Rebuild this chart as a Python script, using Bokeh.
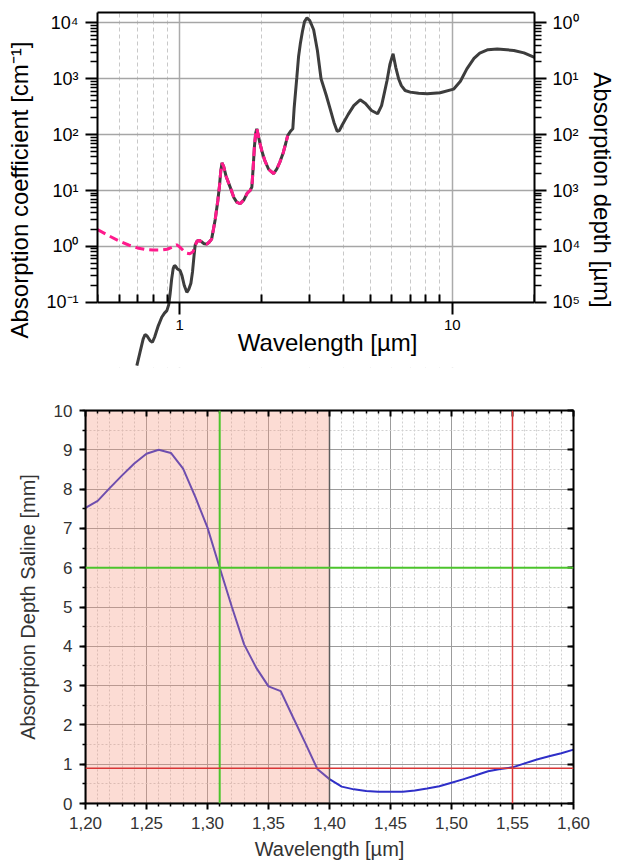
from bokeh.plotting import figure
from bokeh.models import (Range1d, LogAxis, LinearAxis, FixedTicker, SingleIntervalTicker,
                          Label, Span)
from bokeh.embed import file_html
from bokeh.resources import INLINE

FONT = "Liberation Sans"

# ---------------- top chart data: water absorption coefficient [cm^-1] ----------------
water_wl = [0.697, 0.715, 0.735, 0.747, 0.76, 0.78, 0.795, 0.81, 0.835, 0.86, 0.88, 0.898,
            0.912, 0.923, 0.935, 0.947, 0.957, 0.967, 0.98, 1.004, 1.02, 1.04, 1.063, 1.08,
            1.1, 1.115, 1.13, 1.14, 1.16, 1.18, 1.2, 1.23, 1.258, 1.285, 1.31, 1.33, 1.35,
            1.38, 1.40, 1.415, 1.43, 1.45, 1.48, 1.532, 1.58, 1.62, 1.667, 1.72, 1.77, 1.813,
            1.84, 1.86, 1.88, 1.90, 1.918, 1.94, 1.97, 2.0, 2.05, 2.12, 2.21, 2.27, 2.33, 2.4,
            2.45, 2.49, 2.55, 2.6, 2.63, 2.69, 2.73, 2.77, 2.82, 2.87, 2.93, 3.0, 3.1, 3.2,
            3.3, 3.45, 3.57, 3.68, 3.78, 3.85, 3.95, 4.15, 4.35, 4.59, 4.8, 5.05, 5.32, 5.5,
            5.65, 5.76, 5.9, 6.06, 6.2, 6.35, 6.5, 6.71, 7.0, 7.52, 8.08, 9.02, 10.1, 10.7,
            11.3, 12.0, 12.6, 13.5, 14.6, 16.8, 18.3, 20.0]
water_alpha = [0.0074, 0.0125, 0.022, 0.0266, 0.025, 0.0205, 0.0193, 0.024, 0.038, 0.054,
               0.064, 0.071, 0.09, 0.142, 0.26, 0.40, 0.455, 0.44, 0.40, 0.37, 0.30, 0.20,
               0.151, 0.17, 0.22, 0.35, 0.7, 1.05, 1.25, 1.28, 1.22, 1.12, 1.1, 1.2, 1.35,
               2.0, 3.0, 6.5, 12, 22, 31, 27, 18, 11.5, 7.5, 6.2, 5.8, 6.8, 9, 10, 11.5, 25,
               60, 105, 127, 100, 70, 52, 35, 24, 20, 24, 32, 48, 70, 96, 115, 127, 300, 1064,
               2500, 4200, 7000, 10500, 12300, 11000, 7500, 3200, 1000, 500, 280, 165, 115,
               118, 150, 230, 330, 419, 360, 270, 236, 330, 600, 929, 1800, 2790, 1600, 1000,
               750, 615, 575, 550, 537, 560, 650, 900, 1500, 2300, 2860, 3300, 3400, 3200,
               2900, 2400]

# second (dashed) data set
dashed_wl = [0.5, 0.55, 0.6, 0.65, 0.7, 0.75, 0.8, 0.85, 0.9, 0.94, 0.975, 1.0, 1.03, 1.06,
             1.09, 1.12, 1.14, 1.16, 1.18, 1.2, 1.23, 1.258, 1.285, 1.31, 1.33, 1.35, 1.38,
             1.40, 1.415, 1.43, 1.45, 1.48, 1.532, 1.58, 1.62, 1.667, 1.72, 1.77, 1.813, 1.84,
             1.86, 1.88, 1.90, 1.918, 1.94, 1.97, 2.0, 2.05, 2.12, 2.21, 2.27, 2.33, 2.4, 2.45,
             2.49]
dashed_alpha = [2.0, 1.55, 1.25, 1.06, 0.94, 0.88, 0.86, 0.86, 0.89, 0.97, 1.07, 0.98, 0.85,
                0.76, 0.74, 0.80, 1.05, 1.25, 1.28, 1.22, 1.12, 1.1, 1.2, 1.35, 2.0, 3.0, 6.5,
                12, 22, 31, 27, 18, 11.5, 7.5, 6.2, 5.8, 6.8, 9, 10, 11.5, 25, 60, 105, 127,
                100, 70, 52, 35, 24, 20, 24, 32, 48, 70, 96]

x1_major = [1, 10]
x1_major_labels = ["1", "10"]
x1_minor = [0.5, 0.6, 0.7, 0.8, 0.9, 2, 3, 4, 5, 6, 7, 8, 9, 20]
y1_major = [0.1, 1, 10, 100, 1000, 10000]
alpha_labels = ["10⁻¹", "10⁰", "10¹", "10²", "10³", "10⁴"]
depth_labels = ["10⁵", "10⁴", "10³", "10²", "10¹", "10⁰"]
y1_minor = [k * 10.0 ** e for e in range(-1, 4) for k in range(2, 10)]

# ---------------- bottom chart data: absorption depth of saline [mm] ----------------
saline_wl = [1.20, 1.21, 1.22, 1.23, 1.24, 1.25, 1.26, 1.27, 1.28, 1.29, 1.30, 1.31, 1.32,
             1.33, 1.34, 1.35, 1.36, 1.37, 1.38, 1.39, 1.40, 1.41, 1.42, 1.43, 1.44, 1.45,
             1.46, 1.47, 1.48, 1.49, 1.50, 1.51, 1.52, 1.53, 1.54, 1.55, 1.56, 1.57, 1.58,
             1.59, 1.60]
saline_depth = [7.52, 7.70, 8.03, 8.35, 8.65, 8.90, 9.00, 8.92, 8.52, 7.80, 7.02, 6.00, 5.00,
                4.05, 3.45, 2.98, 2.86, 2.20, 1.55, 0.88, 0.62, 0.43, 0.36, 0.32, 0.30, 0.30,
                0.30, 0.33, 0.38, 0.44, 0.53, 0.62, 0.72, 0.82, 0.88, 0.92, 1.02, 1.12, 1.20,
                1.28, 1.37]

x2_ticks = [1.20, 1.25, 1.30, 1.35, 1.40, 1.45, 1.50, 1.55, 1.60]
x2_labels = ["1,20", "1,25", "1,30", "1,35", "1,40", "1,45", "1,50", "1,55", "1,60"]
x2_minor = [round(1.20 + 0.01 * i, 2) for i in range(41) if i % 5 != 0]

band_start, band_end = 1.20, 1.40
green_wl, green_depth = 1.31, 6.0
red_wl, red_depth = 1.55, 0.9

# ======================= top figure =======================
x1_start, x1_end = 0.5, 20
y1_start, y1_end = 10 ** -2.166, 10 ** 4.184
axis_floor = 0.1

p1 = figure(x_axis_type="log", y_axis_type="log",
            x_range=Range1d(x1_start, x1_end), y_range=Range1d(y1_start, y1_end),
            frame_width=437, frame_height=355,
            min_border_left=97, min_border_right=85, min_border_top=12, min_border_bottom=36,
            output_backend="svg", toolbar_location=None)
p1.outline_line_color = None
p1.background_fill_color = "white"
p1.border_fill_color = "white"

xa = p1.xaxis[0]
xa.ticker = FixedTicker(ticks=x1_major, minor_ticks=x1_minor)
xa.major_label_overrides = dict(zip(x1_major, x1_major_labels))
xa.fixed_location = axis_floor
xa.axis_line_width = 2
xa.axis_line_color = "black"
xa.major_tick_out = 12
xa.major_tick_in = 0
xa.major_tick_line_width = 2
xa.minor_tick_out = 0
xa.minor_tick_in = 8
xa.minor_tick_line_width = 2
xa.major_label_text_font = FONT
xa.major_label_text_font_size = "15px"
xa.major_label_text_color = "black"
xa.major_label_standoff = 6

def style_y(ax, labels):
    ax.ticker = FixedTicker(ticks=y1_major, minor_ticks=y1_minor)
    ax.bounds = (axis_floor, y1_end)
    ax.major_label_overrides = dict(zip(y1_major, labels))
    ax.axis_line_width = 2
    ax.axis_line_color = "black"
    ax.major_tick_out = 12
    ax.major_tick_in = 0
    ax.major_tick_line_width = 2
    ax.minor_tick_out = 7
    ax.minor_tick_in = 0
    ax.minor_tick_line_width = 1.5
    ax.major_label_text_font = FONT
    ax.major_label_text_font_size = "18px"
    ax.major_label_text_color = "black"
    ax.axis_label_text_font = FONT
    ax.axis_label_text_font_size = "24px"
    ax.axis_label_text_font_style = "normal"
    ax.axis_label_text_color = "black"

ya = p1.yaxis[0]
style_y(ya, alpha_labels)
ya.axis_label = "Absorption coefficient [cm⁻¹]"
ya.major_label_standoff = 7
ya.axis_label_standoff = 10

ra = LogAxis()
style_y(ra, depth_labels)
ra.axis_label = "Absorption depth [µm]"
ra.major_label_standoff = 6
ra.axis_label_standoff = 6
p1.add_layout(ra, "right")

ta = LogAxis(ticker=FixedTicker(ticks=[]), axis_line_width=2, axis_line_color="black",
             major_tick_out=0, major_tick_in=0, minor_tick_out=0, minor_tick_in=0,
             major_label_text_color=None, major_label_text_font_size="1px")
p1.add_layout(ta, "above")

p1.xgrid.ticker = FixedTicker(ticks=x1_major, minor_ticks=x1_minor)
p1.xgrid.grid_line_color = "#ababab"
p1.xgrid.grid_line_width = 1.5
p1.xgrid.minor_grid_line_color = "#c8c8c8"
p1.xgrid.minor_grid_line_width = 1
p1.xgrid.minor_grid_line_dash = "4 3"
p1.ygrid.ticker = FixedTicker(ticks=y1_major)
p1.ygrid.grid_line_color = "#a6a6a6"
p1.ygrid.grid_line_width = 1.5
p1.ygrid.minor_grid_line_color = None

# blank out grid below the axis floor
p1.quad(left=x1_start, right=x1_end, bottom=y1_start, top=axis_floor,
        fill_color="white", line_color=None)

p1.line(water_wl, water_alpha, line_color="#3d3d3d", line_width=3)
p1.line(dashed_wl, dashed_alpha, line_color="#ff1a8c", line_width=3, line_dash="9 5")

p1.add_layout(Label(x=3.49, y=0.0191, text="Wavelength [µm]", text_align="center",
                    text_baseline="middle", text_font=FONT, text_font_size="24px",
                    text_color="black"))

# ======================= bottom figure =======================
p2 = figure(x_range=Range1d(1.2, 1.6), y_range=Range1d(0, 10),
            frame_width=488, frame_height=393,
            min_border_left=85, min_border_right=46, min_border_top=7, min_border_bottom=64,
            output_backend="svg", toolbar_location=None)
p2.outline_line_color = None
p2.background_fill_color = "white"
p2.border_fill_color = "white"

TXT = "#333333"
xticker2 = FixedTicker(ticks=x2_ticks, minor_ticks=x2_minor)
yticker2 = SingleIntervalTicker(interval=1, num_minor_ticks=2)

bx = p2.xaxis[0]
bx.ticker = xticker2
bx.major_label_overrides = dict(zip(x2_ticks, x2_labels))
bx.axis_label = "Wavelength [µm]"
by = p2.yaxis[0]
by.ticker = yticker2
by.axis_label = "Absorption Depth Saline [mm]"
for ax in (bx, by):
    ax.axis_line_width = 2
    ax.axis_line_color = "black"
    ax.major_tick_out = 6
    ax.major_tick_in = 0
    ax.major_tick_line_width = 2
    ax.minor_tick_out = 3
    ax.minor_tick_in = 0
    ax.minor_tick_line_width = 1.5
    ax.major_label_text_font = FONT
    ax.major_label_text_font_size = "17px"
    ax.major_label_text_color = TXT
    ax.major_label_standoff = 7
    ax.axis_label_text_font = FONT
    ax.axis_label_text_font_size = "20px"
    ax.axis_label_text_font_style = "normal"
    ax.axis_label_text_color = TXT
bx.axis_label_standoff = 6
by.axis_label_standoff = 12

for tick, side in ((xticker2, "above"), (yticker2, "right")):
    ax = LinearAxis(ticker=tick, axis_line_width=2, axis_line_color="black",
                    major_tick_out=0, major_tick_in=6, major_tick_line_width=2,
                    minor_tick_out=0, minor_tick_in=3, minor_tick_line_width=1.5,
                    major_label_text_color=None, major_label_text_font_size="1px",
                    major_label_standoff=0)
    p2.add_layout(ax, side)

p2.xgrid.ticker = xticker2
p2.ygrid.ticker = yticker2
for g in (p2.xgrid, p2.ygrid):
    g.grid_line_color = "#9c9c9c"
    g.grid_line_width = 1
    g.minor_grid_line_color = "#d0d0d0"
    g.minor_grid_line_width = 1
    g.minor_grid_line_dash = "2 2"

p2.line(saline_wl, saline_depth, line_color="#2f2fc8", line_width=2)

p2.quad(left=band_start, right=band_end, bottom=0, top=10,
        fill_color="#f5917a", fill_alpha=0.32, line_color="#5e5e5e", line_width=1.5)

p2.add_layout(Span(location=green_wl, dimension="height", line_color="#4cc42c", line_width=2))
p2.add_layout(Span(location=green_depth, dimension="width", line_color="#4cc42c", line_width=2))
p2.add_layout(Span(location=red_wl, dimension="height", line_color="#d93636", line_width=1.5))
p2.add_layout(Span(location=red_depth, dimension="width", line_color="#d93636", line_width=1.5))

open("out.html", "w").write(file_html([p1, p2], INLINE))
